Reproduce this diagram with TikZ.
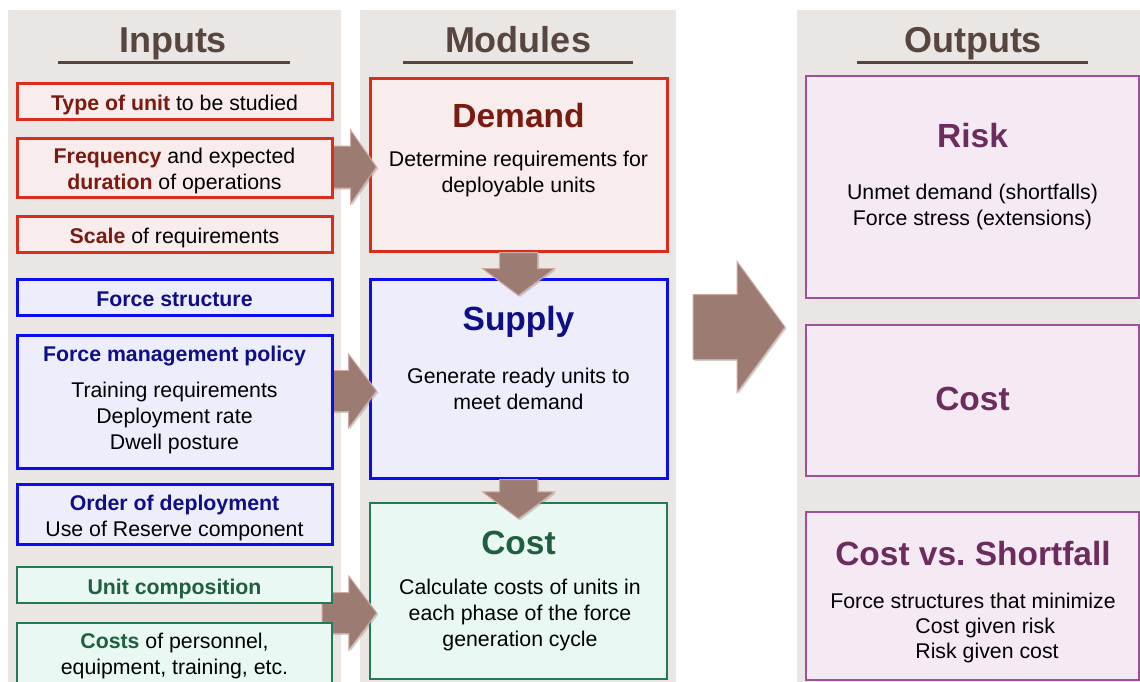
\documentclass[tikz,border=0pt]{standalone}
\usepackage{fontspec}
\setmainfont{Liberation Sans}
\usetikzlibrary{calc, shadows}

\definecolor{panel}{RGB}{234,230,227}
\definecolor{headbrown}{RGB}{87,69,63}
\definecolor{redline}{RGB}{217,45,30}
\definecolor{redfill}{RGB}{248,236,236}
\definecolor{redtext}{RGB}{123,26,16}
\definecolor{blueline}{RGB}{12,12,240}
\definecolor{bluefill}{RGB}{237,237,251}
\definecolor{bluetext}{RGB}{14,14,136}
\definecolor{greenline}{RGB}{35,123,85}
\definecolor{greenfill}{RGB}{233,248,243}
\definecolor{greentext}{RGB}{31,95,63}
\definecolor{purpleline}{RGB}{160,80,154}
\definecolor{purplefill}{RGB}{245,234,244}
\definecolor{purpletext}{RGB}{108,45,94}
\definecolor{arrowbrown}{RGB}{156,123,114}
\definecolor{arrowedge}{RGB}{208,170,160}

\newcommand{\bodysize}{\fontsize{21.3}{26}\selectfont}
\newcommand{\titlesize}{\fontsize{33.5}{40}\selectfont}
\newcommand{\headsize}{\fontsize{36}{42}\selectfont}
\newcommand{\firstboxstrut}{\rule{0pt}{24pt}}
\newcommand{\lastboxstrut}{\rule[-5.3pt]{0pt}{1pt}}
\newcommand{\redword}[1]{\textcolor{redtext}{\textbf{#1}}}
\newcommand{\blueword}[1]{\textcolor{bluetext}{\textbf{#1}}}
\newcommand{\greenword}[1]{\textcolor{greentext}{\textbf{#1}}}

\tikzset{
    box/.style={rectangle, line width=3pt, align=center, inner sep=0pt, font=\bodysize,
        execute at begin node=\firstboxstrut, execute at end node=\lastboxstrut},
    redbox/.style={box, draw=redline, fill=redfill},
    bluebox/.style={box, draw=blueline, fill=bluefill},
    greenbox/.style={box, draw=greenline, fill=greenfill, line width=2.5pt},
    purplebox/.style={box, draw=purpleline, fill=purplefill, line width=2.6pt},
    headtext/.style={anchor=base, font=\headsize\bfseries, text=headbrown},
    titletext/.style={anchor=base, font=\titlesize\bfseries},
    bodytext/.style={align=center, inner sep=0pt, font=\bodysize},
    rule/.style={draw=headbrown, line width=3pt},
    arrowfill/.style={fill=arrowbrown, draw=arrowedge, line width=1pt,
        drop shadow={shadow xshift=1.5pt, shadow yshift=-1.5pt, opacity=0.35}},
    harrow/.style n args={3}{arrowfill, to path={
        ($(\tikztostart)+(0,-#1)$) -- ($(\tikztotarget)+(-#3,-#1)$) -- ($(\tikztotarget)+(-#3,-#2)$)
        -- (\tikztotarget) -- ($(\tikztotarget)+(-#3,#2)$) -- ($(\tikztotarget)+(-#3,#1)$)
        -- ($(\tikztostart)+(0,#1)$) -- cycle}},
    varrow/.style n args={3}{arrowfill, to path={
        ($(\tikztostart)+(-#1,0)$) -- ($(\tikztotarget)+(-#1,-#3)$) -- ($(\tikztotarget)+(-#2,-#3)$)
        -- (\tikztotarget) -- ($(\tikztotarget)+(#2,-#3)$) -- ($(\tikztotarget)+(#1,-#3)$)
        -- ($(\tikztostart)+(#1,0)$) -- cycle}}
}

\begin{document}
\begin{tikzpicture}[x=1pt, y=-1pt]
    \useasboundingbox (0,0) rectangle (1140,681);

    \fill[panel] (8,10) rectangle (341,690);
    \fill[panel] (360,10) rectangle (676,690);
    \fill[panel] (797,10) rectangle (1145,690);

    \node[headtext] (inhead) at (173,52) {Inputs};
    \draw[rule] (58,62) -- (290,62);
    \node[headtext] (modhead) at (518,52) {Modules};
    \draw[rule] (403,62) -- (633,62);
    \node[headtext] (outhead) at (973,52) {Outputs};
    \draw[rule] (857,62) -- (1088,62);

    \node[redbox, minimum width=297, minimum height=173] (demand) at (518.5,164.5) {};
    \node[titletext, text=redtext] (demandt) at (518.5,127) {Demand};
    \node[bodytext] (demandb) at (518.5,174) {Determine requirements for\\deployable units};

    \node[bluebox, minimum width=297, minimum height=199] (supply) at (518.5,378.5) {};
    \node[titletext, text=bluetext] (supplyt) at (518.5,330) {Supply};
    \node[bodytext] (supplyb) at (518.5,388.5) {Generate ready units to\\meet demand};

    \node[greenbox, minimum width=297, minimum height=176] (cost) at (518.5,591) {};
    \node[titletext, text=greentext] (costt) at (518.5,554) {Cost};
    \node[bodytext] (costb) at (520,615) {Calculate costs of units in\\each phase of the force\\generation cycle};

    \coordinate (a1s) at (330,167);
    \coordinate (a1) at ($(demand.west |- a1s)+(8,0)$);
    \coordinate (a2s) at (330,391);
    \coordinate (a2) at ($(supply.west |- a2s)+(8,0)$);
    \coordinate (a3s) at (322,613);
    \coordinate (a3) at ($(cost.west |- a3s)+(8,0)$);
    \path[harrow={21}{37}{26}] (a1s) to (a1);
    \path[harrow={20.5}{37}{28}] (a2s) to (a2);
    \path[harrow={20.5}{37}{28}] (a3s) to (a3);

    \coordinate (d1) at ($(supply.north)+(0,18)$);
    \coordinate (d2) at ($(cost.north)+(0,17)$);
    \path[varrow={19}{36}{27}] (demand.south) to (d1);
    \path[varrow={19}{36}{27}] (supply.south) to (d2);

    \node[redbox, minimum width=315, minimum height=36] (type) at (174.5,101) {\redword{Type of unit} to be studied};
    \node[redbox, minimum width=315, minimum height=59] (freq) at (174.5,167.5) {};
    \node[bodytext] (freqb) at (174.5,171) {\redword{Frequency} and expected\\\redword{duration} of operations};
    \node[redbox, minimum width=315, minimum height=36] (scale) at (174.5,234) {\redword{Scale} of requirements};

    \node[bluebox, minimum width=315, minimum height=36] (fstruct) at (174.5,297) {\blueword{Force structure}};
    \node[bluebox, minimum width=315, minimum height=133] (policy) at (174.5,401.5) {};
    \node[bodytext] (policyb) at (174.5,399.5) {\blueword{Force management policy}\\[10pt]Training requirements\\Deployment rate\\Dwell posture};
    \node[bluebox, minimum width=315, minimum height=60] (order) at (174.5,514) {};
    \node[bodytext] (orderb) at (174.5,518) {\blueword{Order of deployment}\\Use of Reserve component};

    \node[greenbox, minimum width=315, minimum height=36] (unitcomp) at (174.5,585) {\greenword{Unit composition}};
    \node[greenbox, minimum width=315, minimum height=64] (costs) at (174.5,655) {};
    \node[bodytext] (costsb) at (174.5,656) {\greenword{Costs} of personnel,\\equipment, training, etc.};

    \coordinate (bigs) at (693,327);
    \coordinate (bigt) at (785,327);
    \path[harrow={32.5}{65.5}{48}] (bigs) to (bigt);

    \node[purplebox, minimum width=333, minimum height=222] (risk) at (972.5,187) {};
    \node[titletext, text=purpletext] (riskt) at (972.5,147) {Risk};
    \node[bodytext] (riskb) at (972.5,207) {Unmet demand (shortfalls)\\Force stress (extensions)};

    \node[purplebox, minimum width=333, minimum height=151] (costout) at (972.5,400.5) {};
    \node[titletext, text=purpletext] (costoutt) at (972.5,410) {Cost};

    \node[purplebox, minimum width=333, minimum height=168,
        drop shadow={shadow xshift=-1.5pt, shadow yshift=1.5pt, opacity=0.4}] (cvs) at (972.5,596) {};
    \node[titletext, text=purpletext] (cvst) at (973,565) {Cost vs.\ Shortfall};
    \node[bodytext, align=left, font=\fontsize{21.3}{25}\selectfont] (cvsb) at (973,628)
        {Force structures that minimize\\\hspace*{85pt}Cost given risk\\\hspace*{85pt}Risk given cost};
\end{tikzpicture}
\end{document}
